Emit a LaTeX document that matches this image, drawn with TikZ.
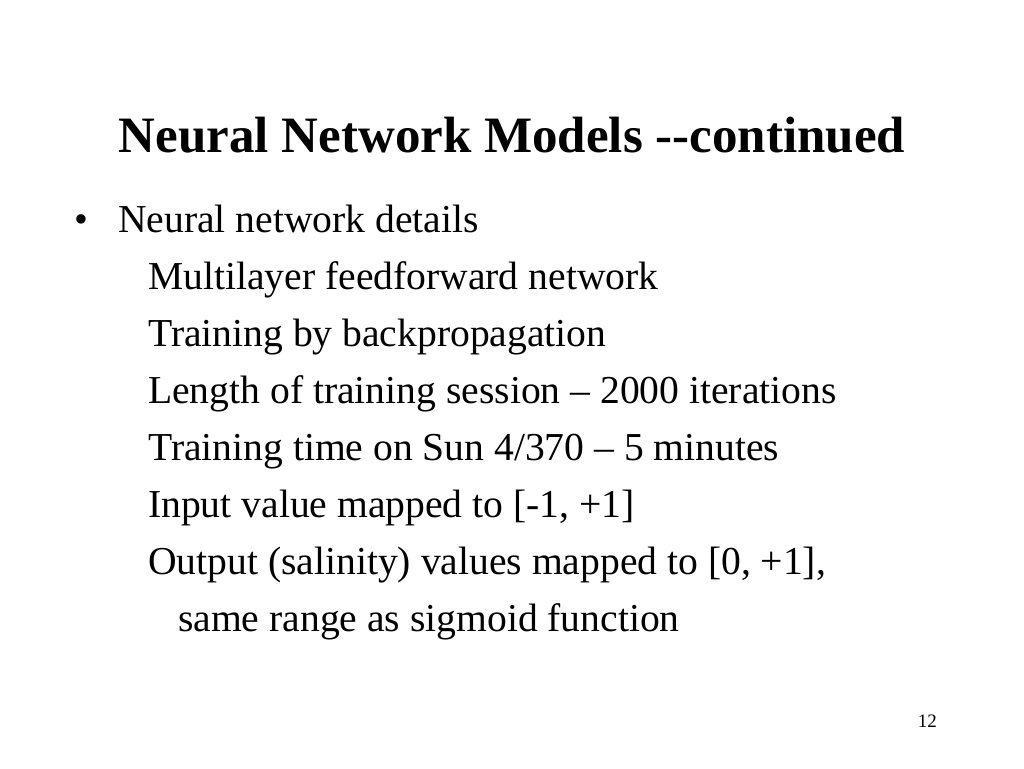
\documentclass[tikz,border=0pt]{standalone}
\usepackage{fontspec}
\setmainfont{Liberation Serif}
\begin{document}
\begin{tikzpicture}[x=1pt,y=-1pt,
  title/.style={anchor=base,inner sep=0pt,font=\fontsize{51}{60}\selectfont\bfseries},
  body/.style={anchor=base west,inner sep=0pt,font=\fontsize{39.6}{46}\selectfont},
  pnum/.style={anchor=base east,inner sep=0pt,font=\fontsize{19}{22}\selectfont}]
\useasboundingbox[fill=white] (0,0) rectangle (1024,768);
\node[title] (t) at (512,152) {Neural Network Models -{}-continued};
\node[body] (b) at (74,232) {\textbullet};
\node[body] (l1) at (118,232) {Neural network details};
\node[body] (l2) at (148,289) {Multilayer feedforward network};
\node[body] (l3) at (148,346) {Training by backpropagation};
\node[body] (l4) at (148,403) {Length of training session -- 2000 iterations};
\node[body] (l5) at (148,460) {Training time on Sun 4/370 -- 5 minutes};
\node[body] (l6) at (148,517) {Input value mapped to [-1, +1]};
\node[body] (l7) at (148,574) {Output (salinity) values mapped to [0, +1],};
\node[body] (l8) at (178,631) {same range as sigmoid function};
\node[pnum] (n) at (937,727) {12};
\end{tikzpicture}
\end{document}
